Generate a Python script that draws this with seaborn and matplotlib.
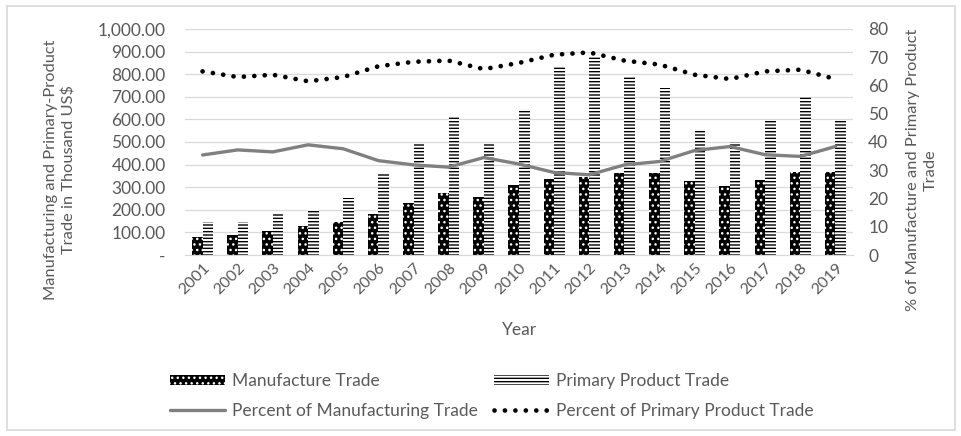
import numpy as np
import pandas as pd
import matplotlib
matplotlib.use("Agg")
import matplotlib.pyplot as plt
import seaborn as sns
from matplotlib.patches import Patch, Rectangle
from matplotlib.lines import Line2D
from matplotlib.ticker import FuncFormatter, MultipleLocator

# ---------------- data ----------------
years = [str(y) for y in range(2001, 2020)]
manufacture_trade = [79, 88, 106, 128, 148, 182, 229, 274, 257, 308,
                     338, 345, 363, 363, 326, 304, 330, 367, 367]
primary_trade = [145, 145, 186, 198, 251, 360, 492, 611, 492, 644,
                 833, 874, 794, 741, 556, 499, 598, 702, 598]
pct_manufacturing = [35.4, 37.2, 36.5, 39.0, 37.6, 33.4, 31.9, 31.1, 34.5, 32.2,
                     29.2, 28.4, 31.9, 33.1, 37.0, 38.4, 35.5, 34.9, 38.4]
pct_primary = [65.0, 63.0, 63.8, 61.5, 63.0, 66.8, 68.4, 68.8, 65.8, 68.0,
               70.9, 71.7, 68.8, 67.4, 63.8, 62.3, 65.0, 65.6, 62.3]
series_names = ["Manufacture Trade", "Primary Product Trade"]
line_names = ["Percent of Manufacturing Trade", "Percent of Primary Product Trade"]

# ---------------- style ----------------
sns.set_style("white")
plt.rcParams["font.family"] = ["Lato", "DejaVu Sans"]
plt.rcParams["hatch.linewidth"] = 1.0
TXT = "#595959"
GRID = "#d9d9d9"
FS = 12.5

df = pd.DataFrame({
    "Year": years * 2,
    "Value": manufacture_trade + primary_trade,
    "Series": [series_names[0]] * len(years) + [series_names[1]] * len(years),
})

fig = plt.figure(figsize=(9.62, 4.36), dpi=100)
ax = fig.add_axes([185 / 962, 1 - 255 / 436, 668 / 962, 226 / 436])

sns.barplot(data=df, x="Year", y="Value", hue="Series", order=years,
            hue_order=series_names, palette=["black", "white"],
            width=0.6, gap=0, ax=ax, legend=False, errorbar=None)

n = len(years)
for i, p in enumerate(ax.patches):
    if i < n:
        p.set_facecolor("black")
        p.set_edgecolor("white")
        p.set_hatch("...")
        p.set_linewidth(0)
    elif i < 2 * n:
        p.set_facecolor("white")
        p.set_edgecolor("black")
        p.set_hatch("-----")
        p.set_linewidth(0)

ax.set_ylim(0, 1000)
ax.set_xlim(-0.5, n - 0.5)
ax.yaxis.set_major_locator(MultipleLocator(100))
ax.yaxis.set_major_formatter(FuncFormatter(lambda v, _: "-" if v == 0 else f"{v:,.2f}"))
ax.yaxis.grid(True, color=GRID, lw=0.9)
ax.set_axisbelow(True)
for s in ["top", "left", "right"]:
    ax.spines[s].set_visible(False)
ax.spines["bottom"].set_color(GRID)
ax.set_ylabel("")

ax2 = ax.twinx()
xpos = np.arange(n)
sns.lineplot(x=xpos, y=pct_manufacturing, ax=ax2, color="#808080", lw=2.4,
             legend=False)
sns.lineplot(x=xpos, y=pct_primary, ax=ax2, color="black", lw=3.4,
             legend=False, linestyle=(0, (0.01, 2.2)), dash_capstyle="round")
ax2.set_ylim(0, 80)
ax2.set_xlim(-0.5, n - 0.5)
ax2.yaxis.set_major_locator(MultipleLocator(10))
for s in ["top", "left", "right", "bottom"]:
    ax2.spines[s].set_visible(False)
ax2.tick_params(axis="y", length=0, pad=11, labelsize=FS, labelcolor=TXT)
ax2.grid(False)

# x ticks / labels after all plotting
ax.set_xticks(xpos)
ax.set_xticklabels(years)
ax.tick_params(axis="y", length=0, pad=14, labelsize=FS, labelcolor=TXT)
ax.tick_params(axis="x", length=0, pad=4, labelsize=FS - 1, labelcolor=TXT,
               labelrotation=45)
for t in ax.get_xticklabels():
    t.set_ha("right")
    t.set_rotation_mode("anchor")
ax.set_xlabel("Year", fontsize=FS, color=TXT, labelpad=18)

fig.text(60 / 962, 1 - 170 / 436, "Manufacturing and Primary-Product\nTrade in Thousand US$",
         rotation=90, ha="center", va="center", fontsize=FS - 0.7, color=TXT, linespacing=1.3)
fig.text(922 / 962, 1 - 170 / 436, "% of Manufacture and Primary Product\nTrade",
         rotation=90, ha="center", va="center", fontsize=FS - 0.7, color=TXT, linespacing=1.3)

handles = [
    Patch(facecolor="black", edgecolor="white", hatch="...", linewidth=0),
    Patch(facecolor="white", edgecolor="black", hatch="-----", linewidth=0),
    Line2D([], [], color="#808080", lw=2.4),
    Line2D([], [], color="black", lw=3.4, linestyle=(0, (0.01, 2.2)), dash_capstyle="round"),
]
labels = [series_names[0], series_names[1], line_names[0], line_names[1]]
order = [0, 2, 1, 3]
leg = fig.legend([handles[i] for i in order], [labels[i] for i in order], ncol=2,
                 loc="center", bbox_to_anchor=((170 + 814) / 2 / 962, 1 - 396 / 436),
                 frameon=False, fontsize=FS, handlelength=3.2, handleheight=0.5,
                 handletextpad=0.4, columnspacing=0.9, labelspacing=0.8)
for t in leg.get_texts():
    t.set_color(TXT)

fig.patches.append(Rectangle((7 / 962, 6 / 436), 948 / 962, 424 / 436,
                             transform=fig.transFigure, fill=False,
                             edgecolor=GRID, lw=1.2))

fig.savefig("out.png", dpi=100)
